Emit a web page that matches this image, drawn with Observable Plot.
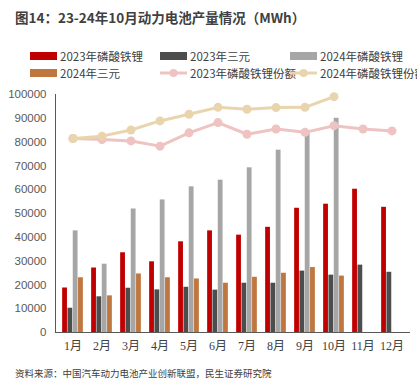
<!DOCTYPE html>
<html><head><meta charset="utf-8">
<script src="https://cdn.jsdelivr.net/npm/d3@7"></script>
<script src="https://cdn.jsdelivr.net/npm/@observablehq/plot@0.6"></script>
<style>
body{margin:0;background:#fff;}
#wrap{position:relative;width:417px;height:389px;overflow:hidden;font-family:"Noto Sans CJK SC","Noto Sans",sans-serif;}
#title{position:absolute;left:15px;top:7px;font-size:13.5px;font-weight:bold;color:#404040;white-space:nowrap;}
.leg{position:absolute;font-size:11.5px;color:#404040;white-space:nowrap;display:flex;align-items:center;height:14px;}
.leg svg{margin-right:3px;}
#chart{position:absolute;left:0;top:85px;}
#caption{position:absolute;left:15px;top:366px;font-size:9.5px;color:#404040;white-space:nowrap;}
#chart g[aria-label^="x-axis"] text{font-size:12px;font-family:"Liberation Serif","Noto Sans CJK SC",serif;fill:#404040;}
</style></head>
<body><div id="wrap">
<div id="title">图14：23-24年10月动力电池产量情况（MWh）</div>
<div id="legend"></div>
<div id="chart"></div>
<div id="caption">资料来源：中国汽车动力电池产业创新联盟，民生证券研究院</div>
</div>
<script>
const months = ["1月","2月","3月","4月","5月","6月","7月","8月","9月","10月","11月","12月"];
const lfp2023 = [18700, 27100, 33500, 29700, 38100, 42700, 40900, 44200, 52200, 53900, 60200, 52600];
const ncm2023 = [10200, 15000, 18600, 17900, 19000, 17800, 20700, 20700, 25800, 24100, 28300, 25300];
const lfp2024 = [42700, 28700, 51900, 55700, 61200, 64000, 69200, 76600, 84200, 90000];
const ncm2024 = [23000, 15400, 24600, 23000, 22500, 20700, 23200, 24900, 27300, 23700];
// share lines, read against a hidden secondary axis of 0–100%
const share2023 = [81.5, 81.1, 80.5, 78.3, 83.9, 88.2, 83.3, 85.5, 84.1, 86.9, 85.5, 84.7];
const share2024 = [81.5, 82.5, 85.1, 88.9, 91.7, 94.6, 93.8, 94.5, 94.6, 99.1];
const barSeries = [
  {name:"2023年磷酸铁锂", values: lfp2023, color:"#C00000"},
  {name:"2023年三元", values: ncm2023, color:"#4D4D4D"},
  {name:"2024年磷酸铁锂", values: lfp2024, color:"#A6A6A6"},
  {name:"2024年三元", values: ncm2024, color:"#C0773F"}
];
const lineSeries = [
  {name:"2023年磷酸铁锂份额", values: share2023, color:"#EFC3C1"},
  {name:"2024年磷酸铁锂份额", values: share2024, color:"#E9D5AD"}
];

const width = 417, height = 270, ml = 55, mr = 8, mt = 9, mb = 23;
const bw = (width - ml - mr) / months.length;
const barW = 5.3, groupOff = (bw - barW * 4) / 2;

const marks = [];
barSeries.forEach((s, i) => {
  const rows = s.values.map((v, k) => ({month: months[k], value: v}));
  marks.push(Plot.barY(rows, {
    x: "month", y: "value", fill: s.color,
    insetLeft: groupOff + barW * i,
    insetRight: bw - groupOff - barW * (i + 1)
  }));
});
lineSeries.forEach(s => {
  const rows = s.values.map((v, k) => ({month: months[k], share: v}));
  marks.push(Plot.line(rows, {x: "month", y: d => d.share * 1000, stroke: s.color, strokeWidth: 3}));
  marks.push(Plot.dot(rows, {x: "month", y: d => d.share * 1000, fill: s.color, r: 4.5}));
});

const chart = Plot.plot({
  width, height, marginLeft: ml, marginRight: mr, marginTop: mt, marginBottom: mb,
  style: {fontFamily: "Liberation Sans, sans-serif", fontSize: "11.5px", color: "#595959", background: "#fff"},
  x: {type: "band", domain: months, padding: 0, label: null, tickSize: 0, tickPadding: 9, line: true},
  y: {domain: [0, 100000], ticks: d3.range(0, 100001, 10000), tickFormat: d => String(d), label: null, tickSize: 0, tickPadding: 9, line: true},
  marks
});
document.getElementById("chart").appendChild(chart);

// legend
const leg = document.getElementById("legend");
const items = [
  {s: barSeries[0], type: "bar", x: 30, y: 49},
  {s: barSeries[1], type: "bar", x: 160, y: 49},
  {s: barSeries[2], type: "bar", x: 290, y: 49},
  {s: barSeries[3], type: "bar", x: 30, y: 66},
  {s: lineSeries[0], type: "line", x: 160, y: 66},
  {s: lineSeries[1], type: "line", x: 290, y: 66}
];
items.forEach(it => {
  const d = document.createElement("div");
  d.className = "leg";
  d.style.left = it.x + "px";
  d.style.top = it.y + "px";
  const sw = it.type === "bar"
    ? `<svg width="27" height="8"><rect width="27" height="8" fill="${it.s.color}"/></svg>`
    : `<svg width="27" height="10"><line x1="0" x2="27" y1="5" y2="5" stroke="${it.s.color}" stroke-width="3"/><circle cx="13.5" cy="5" r="4" fill="${it.s.color}"/></svg>`;
  d.innerHTML = sw + `<span>${it.s.name}</span>`;
  leg.appendChild(d);
});
</script>
</body></html>
